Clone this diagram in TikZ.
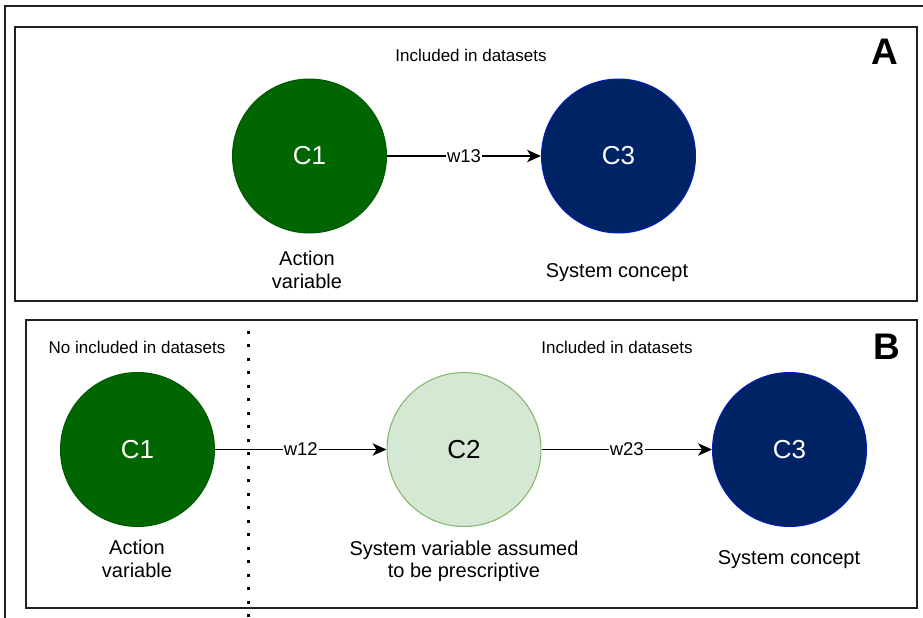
\documentclass[tikz,border=0pt]{standalone}
\usepackage{fontspec}
\setmainfont{Liberation Sans}
\usetikzlibrary{arrows.meta}

\definecolor{actfill}{RGB}{0,102,0}
\definecolor{actline}{RGB}{0,87,0}
\definecolor{sysfill}{RGB}{0,35,102}
\definecolor{sysline}{RGB}{0,29,188}
\definecolor{prefill}{HTML}{D5E8D4}
\definecolor{preline}{HTML}{82B366}
\definecolor{frame}{gray}{0.13}

\tikzset{
  concept/.style={circle, minimum size=154pt, inner sep=0pt, line width=1pt,
    font=\fontsize{26}{30}\selectfont},
  action/.style={concept, fill=actfill, draw=actline, text=white},
  system/.style={concept, fill=sysfill, draw=sysline, text=white},
  presc/.style={concept, fill=prefill, draw=preline, text=black},
  caption/.style={inner sep=0pt, align=center, font=\fontsize{20}{22.5}\selectfont},
  note/.style={inner sep=0pt, anchor=base, font=\fontsize{17}{20}\selectfont},
  tag/.style={inner sep=0pt, anchor=base, font=\bfseries\fontsize{37}{40}\selectfont},
  wlabel/.style={fill=white, inner sep=1pt, font=\fontsize{18.5}{20}\selectfont},
  link/.style={-{Stealth[length=14pt,width=12.5pt,inset=4pt]}, line width=1.3pt},
  panel/.style={draw=frame, line width=1.5pt},
}

\begin{document}
\begin{tikzpicture}[x=1pt, y=-1pt]
  \useasboundingbox (0,0) rectangle (923,618);
  \fill[white] (0,0) rectangle (923,618);

  % outer frame, running off the right and bottom edges
  \begin{scope}
    \clip (0,0) rectangle (923,618);
    \draw[panel] (930,6) -- (5,6) -- (5,625);
  \end{scope}

  % ---------- panel A ----------
  \draw[panel] (15,27) rectangle (917,301);
  \node[tag] (tagA) at (885,65) {A};
  \node[note] (inA) at (471,62) {Included in datasets};

  \node[action] (a1) at (309.5,156) {C1};
  \node[system] (a3) at (618.5,156) {C3};
  \draw[link] (a1) -- node[wlabel] (w13) {w13} (a3);

  \node[caption] (capa1) at (307,270) {Action\\variable};
  \node[caption, anchor=base] (capa3) at (617,277) {System concept};

  % ---------- panel B ----------
  \draw[panel] (26,320) rectangle (917,608);
  \node[tag] (tagB) at (887,359) {B};
  \node[note] (outB) at (137,353) {No included in datasets};
  \node[note] (inB) at (617,353) {Included in datasets};

  % boundary between the excluded and included parts
  \coordinate (cutTop) at (248,330.5);
  \coordinate (cutBot) at (248,618);
  \draw[line width=3pt, dash pattern=on 3pt off 10.5pt] (cutTop) -- (cutBot);

  \node[action] (b1) at (137.5,449.5) {C1};
  \node[presc] (b2) at (464,449.5) {C2};
  \node[system] (b3) at (789.5,449.5) {C3};
  \draw[link] (b1) -- node[wlabel] (w12) {w12} (b2);
  \draw[link] (b2) -- node[wlabel] (w23) {w23} (b3);

  \node[caption] (capb1) at (137,559) {Action\\variable};
  \node[caption] (capb2) at (464,561.5) {System variable assumed\\to be prescriptive};
  \node[caption, anchor=base] (capb3) at (789,564) {System concept};
\end{tikzpicture}
\end{document}
